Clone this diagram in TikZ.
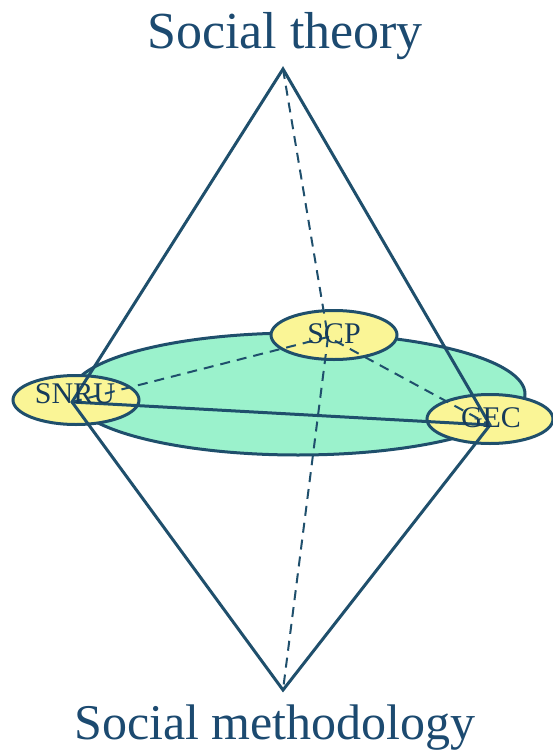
\documentclass[tikz,border=0pt]{standalone}
\usepackage{fontspec}
\setmainfont{Liberation Serif}
\usetikzlibrary{shapes.geometric}
\definecolor{edgeblue}{RGB}{31,79,108}
\definecolor{textblue}{RGB}{28,74,112}
\definecolor{planegreen}{RGB}{155,242,204}
\definecolor{siteyellow}{RGB}{250,245,150}
\begin{document}
\begin{tikzpicture}[x=1pt, y=-1pt,
    site/.style={ellipse, draw=edgeblue, line width=3pt, fill=siteyellow,
        minimum width=126pt, minimum height=49pt, inner sep=0pt},
    sitelabel/.style={anchor=base, text=textblue!80!black, font=\fontsize{30}{32}\selectfont},
    edge/.style={edgeblue, line width=3pt},
    hidden/.style={edgeblue, line width=2pt, dash pattern=on 10pt off 7pt}]

    \useasboundingbox (0,0) rectangle (553,751);

    \node[anchor=base, text=textblue, font=\fontsize{52}{60}\selectfont] (theory) at (285,49) {Social theory};
    \node[anchor=base, text=textblue, font=\fontsize{50}{60}\selectfont] (method) at (275,739) {Social methodology};

    \coordinate (top) at (283,69);
    \coordinate (bottom) at (283,690);
    \coordinate (left) at (72,402);
    \coordinate (right) at (490,425);
    \coordinate (back) at (328,337);

    \filldraw[fill=planegreen, draw=edgeblue, line width=3pt] (298,394) ellipse [x radius=227pt, y radius=61pt];

    \node[site] (snru) at (76,400) {};
    \node[site] (scp) at (334,335) {};
    \node[site] (gec) at (490,419) {};

    \draw[hidden] (top) -- (back) -- (bottom);
    \draw[hidden] (left) -- (back) -- (right);

    \draw[edge] (top) -- (left) -- (bottom) -- (right) -- cycle;
    \draw[edge] (left) -- (right);

    \node[sitelabel] (snrulabel) at (75,403) {SNRU};
    \node[sitelabel] (scplabel) at (334,343) {SCP};
    \node[sitelabel] (geclabel) at (491,427) {GEC};

\end{tikzpicture}
\end{document}
